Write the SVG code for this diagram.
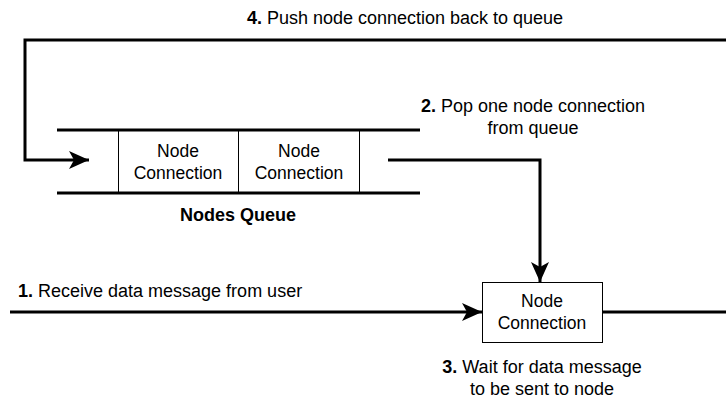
<svg xmlns="http://www.w3.org/2000/svg" width="726" height="403" viewBox="0 0 726 403">
<style>
text{font-family:"Liberation Sans",Arial,sans-serif;font-size:18px;fill:#000}
.b{font-weight:bold}
.c{text-anchor:middle}
.n{font-size:17.5px}
.thick{fill:none;stroke:#000;stroke-width:3}
.thin{fill:none;stroke:#000;stroke-width:1}
</style>
<defs>
<marker id="a2" viewBox="0 0 20 18" refX="20" refY="9" markerWidth="20" markerHeight="18" markerUnits="userSpaceOnUse" orient="auto">
<path d="M0,0 L20,9 L0,18 L5,9 Z" fill="#000"/>
</marker>
</defs>
<g id="queue">
<line class="thick" x1="57" y1="130" x2="420" y2="130"/>
<line class="thick" x1="57" y1="193" x2="420" y2="193"/>
<line class="thin" x1="118.5" y1="130" x2="118.5" y2="193"/>
<line class="thin" x1="238.5" y1="130" x2="238.5" y2="193"/>
<line class="thin" x1="359.5" y1="130" x2="359.5" y2="193"/>
<text class="c n" x="178" y="157">Node</text>
<text class="c n" x="178" y="179">Connection</text>
<text class="c n" x="299" y="157">Node</text>
<text class="c n" x="299" y="179">Connection</text>
<text class="b c" x="238" y="221">Nodes Queue</text>
</g>
<g id="node">
<rect x="482.5" y="282.5" width="120" height="60" fill="#fff" stroke="#000" stroke-width="1"/>
<text class="c n" x="542" y="307">Node</text>
<text class="c n" x="542" y="329">Connection</text>
</g>
<g id="connectors">
<path class="thick" d="M726,40 L25,40 L25,160 L89,160" marker-end="url(#a2)"/>
<path class="thick" d="M388,160 L540,160 L540,282" marker-end="url(#a2)"/>
<path class="thick" d="M10,312 L482,312" marker-end="url(#a2)"/>
<path class="thick" d="M603,312 L726,312"/>
</g>
<g id="labels">
<text class="c" x="405" y="24"><tspan class="b">4.</tspan> Push node connection back to queue</text>
<text class="c" x="533" y="112"><tspan class="b">2.</tspan> Pop one node connection</text>
<text class="c" x="533" y="134">from queue</text>
<text x="18" y="297"><tspan class="b">1.</tspan> Receive data message from user</text>
<text class="c" x="542" y="373"><tspan class="b">3.</tspan> Wait for data message</text>
<text class="c" x="542" y="395">to be sent to node</text>
</g>
</svg>
